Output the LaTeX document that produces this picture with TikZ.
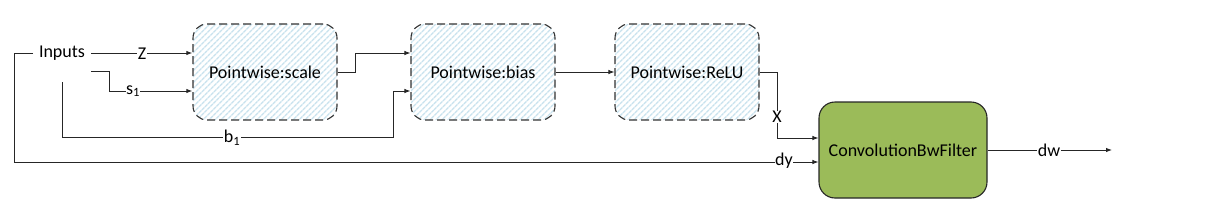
\documentclass[tikz,border=0pt]{standalone}
\usepackage{fontspec}
\setmainfont{Carlito}
\usetikzlibrary{arrows.meta,patterns.meta}
\definecolor{hatchblue}{RGB}{200,226,238}
\definecolor{convgreen}{RGB}{155,187,89}
\tikzset{
  pwbox/.style={draw=black!80, line width=1.1pt, dash pattern=on 8pt off 4pt,
    rounded corners=14pt, minimum width=144pt, minimum height=96pt,
    preaction={fill=white},
    pattern={Lines[angle=45,distance=4pt,line width=1.4pt]}, pattern color=hatchblue,
    font=\fontsize{18}{20}\selectfont},
  convbox/.style={draw=black!85, line width=1.1pt, fill=convgreen,
    rounded corners=16pt, minimum width=168pt, minimum height=96pt,
    font=\fontsize{18}{20}\selectfont},
  conn/.style={draw=black!85, line width=0.9pt},
  arr/.style={conn, -{Latex[length=6pt,width=4.5pt]}},
  lbl/.style={fill=white, inner sep=0.5pt, font=\fontsize{18}{20}\selectfont},
  txt/.style={inner sep=6pt, font=\fontsize{18}{20}\selectfont}
}
\begin{document}
\begin{tikzpicture}[x=1pt,y=-1pt]
\useasboundingbox (0,0) rectangle (1209,217);
\node[txt] (inputs) at (62,53) {Inputs};
\node[pwbox] (scale) at (265,72) {Pointwise:scale};
\node[pwbox] (bias) at (483,72) {Pointwise:bias};
\node[pwbox] (relu) at (687,72) {Pointwise:ReLU};
\node[convbox] (conv) at (903,150) {ConvolutionBwFilter};
\coordinate (zs) at (91,53);
\coordinate (s1s) at (91,71);
\coordinate (b1s) at (62,82);
\coordinate (dys) at (33,53);
\coordinate (out) at (1112,150);

% Z
\draw[arr] (zs) -- (scale.west |- zs);
\node[lbl] (lz) at (142,54) {Z};
% s1
\draw[arr] (s1s) -- (109,71) |- (scale.west |- 0,91);
\node[lbl] (ls) at (133,91) {s\textsubscript{1}};
% b1
\draw[arr] (b1s) |- (393,137) -- (393,91) -- (bias.west |- 0,91);
\node[lbl] (lb) at (232,138) {b\textsubscript{1}};
% dy
\draw[arr] (dys) -- (14,53) |- (conv.west |- 0,162);
\node[lbl] (ldy) at (784,161) {dy};
% scale -> bias
\draw[arr] (scale.east) -- (355,72) |- (bias.west |- 0,53);
% bias -> relu
\draw[arr] (bias.east) -- (relu.west);
% relu -> conv
\draw[arr] (relu.east) -- (777,72) |- (conv.west |- 0,138);
\node[lbl] (lx) at (777,117) {X};
% conv -> out
\draw[arr] (conv.east) -- (out);
\node[lbl] (ldw) at (1049,150) {dw};
\end{tikzpicture}
\end{document}
